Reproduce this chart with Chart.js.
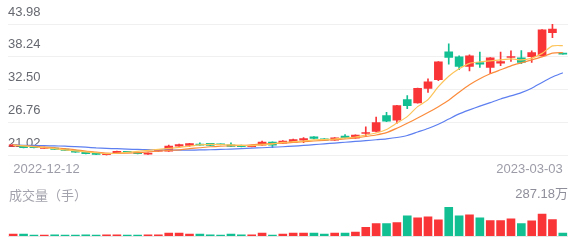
<!DOCTYPE html>
<html>
<head>
<meta charset="utf-8">
<script src="https://cdn.jsdelivr.net/npm/chart.js@4.4.0/dist/chart.umd.min.js"></script>
<style>
html, body { margin: 0; padding: 0; background: #fff; }
#wrap { position: relative; width: 576px; height: 244px; overflow: hidden;
        font-family: "Liberation Sans", Arial, "Noto Sans CJK SC", sans-serif; }
canvas { position: absolute; left: 0; }
#price { top: 0; }
#vol { top: 180px; }
#volTitle { position: absolute; left: 9px; top: 188px; font-size: 13px; line-height: 16px; color: #a3a3ad; }
</style>
</head>
<body>
<div id="wrap">
  <canvas id="price" width="576" height="183"></canvas>
  <canvas id="vol" width="576" height="64"></canvas>
  <div id="volTitle">成交量（手）</div>
</div>
<script>
'use strict';

const dates = [
    '2022-12-12', '2022-12-13', '2022-12-14', '2022-12-15', '2022-12-16',
    '2022-12-19', '2022-12-20', '2022-12-21', '2022-12-22', '2022-12-23',
    '2022-12-26', '2022-12-27', '2022-12-28', '2022-12-29', '2022-12-30',
    '2023-01-03', '2023-01-04', '2023-01-05', '2023-01-06', '2023-01-09',
    '2023-01-10', '2023-01-11', '2023-01-12', '2023-01-13', '2023-01-16',
    '2023-01-17', '2023-01-18', '2023-01-19', '2023-01-20', '2023-01-30',
    '2023-01-31', '2023-02-01', '2023-02-02', '2023-02-03', '2023-02-06',
    '2023-02-07', '2023-02-08', '2023-02-09', '2023-02-10', '2023-02-13',
    '2023-02-14', '2023-02-15', '2023-02-16', '2023-02-17', '2023-02-20',
    '2023-02-21', '2023-02-22', '2023-02-23', '2023-02-24', '2023-02-27',
    '2023-02-28', '2023-03-01', '2023-03-02', '2023-03-03'
];

const opens = [
    22.64, 22.59, 22.53, 22.24, 22.29, 22.12, 21.89, 21.59, 21.42, 21.14,
    21.49, 21.66, 21.54, 21.25, 21.77, 21.77, 22.64, 22.76, 22.99, 23.11,
    22.99, 22.88, 22.76, 22.53, 22.81, 23.33, 23.16, 23.33, 23.68, 24.27,
    23.92, 23.68, 24.38, 24.03, 24.85, 25.19, 27.98, 27.16, 30.76, 30.18,
    32.73, 34.24, 39.11, 38.24, 36.55, 37.25, 36.38, 37.14, 38.12, 38.07,
    38.29, 38.41, 42.47, 38.88
];
const closes = [
    22.88, 22.36, 22.36, 22.41, 22.06, 21.89, 21.59, 21.32, 21.19, 21.32,
    21.72, 21.54, 21.32, 21.42, 21.89, 22.64, 22.93, 23.07, 22.81, 22.76,
    22.88, 22.59, 22.53, 22.76, 23.33, 22.81, 23.54, 23.80, 23.98, 23.98,
    23.68, 24.10, 24.10, 24.55, 25.02, 26.76, 26.99, 29.72, 29.72, 32.73,
    33.89, 37.37, 38.12, 36.55, 38.41, 36.97, 38.07, 37.42, 38.24, 37.25,
    38.99, 42.94, 43.11, 38.71
];
const highs = [
    22.93, 22.64, 22.57, 22.46, 22.33, 22.15, 21.93, 21.63, 21.46, 21.37,
    21.77, 21.70, 21.58, 21.46, 21.93, 22.81, 22.98, 23.12, 23.23, 23.15,
    23.03, 23.23, 22.81, 22.81, 23.51, 23.37, 23.59, 23.85, 24.15, 24.32,
    23.97, 24.15, 24.67, 24.60, 26.01, 27.72, 28.55, 29.77, 31.46, 32.78,
    34.41, 37.42, 40.50, 38.41, 38.59, 39.06, 38.12, 39.06, 39.28, 39.34,
    39.28, 42.99, 43.98, 38.88
];
const lows = [
    22.59, 22.33, 22.31, 22.20, 22.02, 21.85, 21.55, 21.28, 21.15, 21.02,
    21.45, 21.50, 21.28, 21.21, 21.72, 21.72, 22.59, 22.53, 22.76, 22.72,
    22.84, 22.55, 22.49, 22.49, 22.76, 22.36, 23.11, 23.28, 23.23, 23.89,
    23.63, 23.63, 24.05, 23.98, 24.38, 25.14, 26.90, 26.59, 29.19, 30.13,
    32.03, 34.07, 36.97, 35.98, 35.80, 36.38, 35.28, 36.72, 37.42, 37.07,
    37.25, 38.36, 41.60, 38.71
];

// moving average lines
const ma5 = [
    22.81, 22.67, 22.53, 22.36, 22.19, 21.98, 21.80, 21.63, 21.49, 21.33,
    21.40, 21.54, 21.72, 21.89, 22.06, 22.24, 22.41, 22.64, 22.85, 22.93,
    22.90, 22.85, 22.76, 22.72, 22.85, 23.02, 23.28, 23.42, 23.54, 23.72,
    23.80, 23.89, 24.06, 24.24, 24.59, 24.93, 25.54, 26.67, 27.80, 29.54,
    30.76, 33.02, 34.85, 36.15, 37.11, 37.37, 37.54, 37.72, 37.89, 37.72,
    38.01, 38.85, 40.15, 40.21
];
const ma10 = [
    22.81, 22.71, 22.59, 22.46, 22.36, 22.19, 22.01, 21.77, 21.59, 21.42,
    21.37, 21.42, 21.49, 21.63, 21.77, 21.89, 21.98, 22.19, 22.36, 22.53,
    22.62, 22.71, 22.76, 22.88, 22.99, 23.07, 23.16, 23.28, 23.42, 23.54,
    23.66, 23.77, 23.89, 24.06, 24.32, 24.59, 24.99, 25.77, 26.64, 27.54,
    28.50, 29.54, 30.67, 32.07, 33.37, 34.41, 35.28, 35.98, 36.67, 37.20,
    37.72, 38.24, 38.90, 38.99
];
const ma20 = [
    22.81, 22.79, 22.76, 22.72, 22.67, 22.64, 22.55, 22.45, 22.32, 22.24,
    22.19, 22.12, 22.06, 22.03, 21.99, 21.96, 21.94, 21.94, 21.98, 22.01,
    22.06, 22.13, 22.20, 22.29, 22.36, 22.45, 22.53, 22.64, 22.76, 22.90,
    23.04, 23.18, 23.32, 23.46, 23.59, 23.75, 23.92, 24.15, 24.50, 25.11,
    25.72, 26.46, 27.37, 28.27, 28.97, 29.63, 30.24, 30.88, 31.42, 31.98,
    32.76, 33.77, 34.71, 35.46
];

// volume, in 万手
const volumes = [
    21.5, 21.5, 12.2, 11.8, 12.4, 11.6, 12.1, 12.6, 11.9, 12.3,
    12.8, 11.7, 12.0, 12.5, 12.9, 31.2, 30.5, 21.8, 21.2, 12.4,
    12.1, 21.6, 12.3, 12.7, 31.4, 12.2, 21.9, 31.0, 31.3, 30.8,
    21.4, 31.1, 30.6, 40.2, 87.3, 124.5, 124.1, 134.2, 199.3, 180.6,
    190.4, 162.1, 287.18, 199.8, 209.5, 180.2, 152.4, 152.9, 171.3, 124.6,
    152.2, 218.4, 162.6, 31.5
];

const priceTicks = [21.02, 26.76, 32.50, 38.24, 43.98];
const volMax = 287.18;

const FONT = '"Liberation Sans", Arial, "Noto Sans CJK SC", sans-serif';
const RED = '#f93538';
const GREEN = '#12bf92';

let candleColors = closes.map((c, i) => c >= opens[i] ? RED : GREEN);

function maLine(data, color) {
    return {
        type: 'line',
        data: data,
        borderColor: color,
        borderWidth: 1.2,
        pointRadius: 0,
        tension: 0.2,
        order: 0
    };
}

new Chart(document.getElementById('price'), {
    data: {
        labels: dates,
        datasets: [
            maLine(ma5, '#fdc45a'),
            maLine(ma10, '#fb8c3c'),
            maLine(ma20, '#5d7ff0'),
            {
                type: 'bar',
                data: opens.map((o, i) => [o, closes[i]]),
                backgroundColor: candleColors,
                barThickness: 8,
                minBarLength: 1,
                grouped: false,
                order: 1
            },
            {
                type: 'bar',
                data: lows.map((l, i) => [l, highs[i]]),
                backgroundColor: candleColors,
                barThickness: 1,
                grouped: false,
                order: 2
            }
        ]
    },
    options: {
        responsive: false,
        animation: false,
        layout: { padding: { left: 8, right: 8, top: 24, bottom: 0 } },
        plugins: { legend: { display: false }, tooltip: { enabled: false } },
        scales: {
            x: {
                offset: true,
                grid: { display: false, drawTicks: false },
                border: { display: false },
                ticks: {
                    autoSkip: false,
                    maxRotation: 0,
                    align: 'inner',
                    padding: 6,
                    color: '#9c9ca8',
                    font: { size: 13, family: FONT },
                    callback: (v, i) => (i === 0 || i === dates.length - 1) ? dates[i] : ''
                }
            },
            y: {
                min: priceTicks[0],
                max: priceTicks[priceTicks.length - 1],
                afterBuildTicks: s => { s.ticks = priceTicks.map(v => ({ value: v })); },
                grid: { color: '#f0f0f0', drawTicks: false },
                border: { display: false },
                ticks: {
                    mirror: true,
                    padding: 0,
                    labelOffset: -12,
                    color: '#666870',
                    font: { size: 13, family: FONT },
                    callback: v => v.toFixed(2)
                }
            }
        }
    }
});

new Chart(document.getElementById('vol'), {
    type: 'bar',
    data: {
        labels: dates,
        datasets: [{ data: volumes, backgroundColor: candleColors, barThickness: 8 }]
    },
    options: {
        responsive: false,
        animation: false,
        layout: { padding: { left: 8, right: 8, top: 27, bottom: 7 } },
        plugins: { legend: { display: false }, tooltip: { enabled: false } },
        scales: {
            x: { display: false, offset: true },
            y: {
                position: 'right',
                min: 0,
                max: volMax,
                afterBuildTicks: s => { s.ticks = [{ value: 0 }, { value: volMax }]; },
                grid: {
                    color: c => c.tick && c.tick.value === 0 ? '#e6e6e6' : 'rgba(0,0,0,0)',
                    drawTicks: false
                },
                border: { display: false },
                ticks: {
                    mirror: true,
                    padding: 0,
                    labelOffset: -13,
                    color: '#8e8e9a',
                    font: { size: 13, family: FONT },
                    callback: v => v === 0 ? '' : v.toFixed(2) + '万'
                }
            }
        }
    }
});
</script>
</body>
</html>
